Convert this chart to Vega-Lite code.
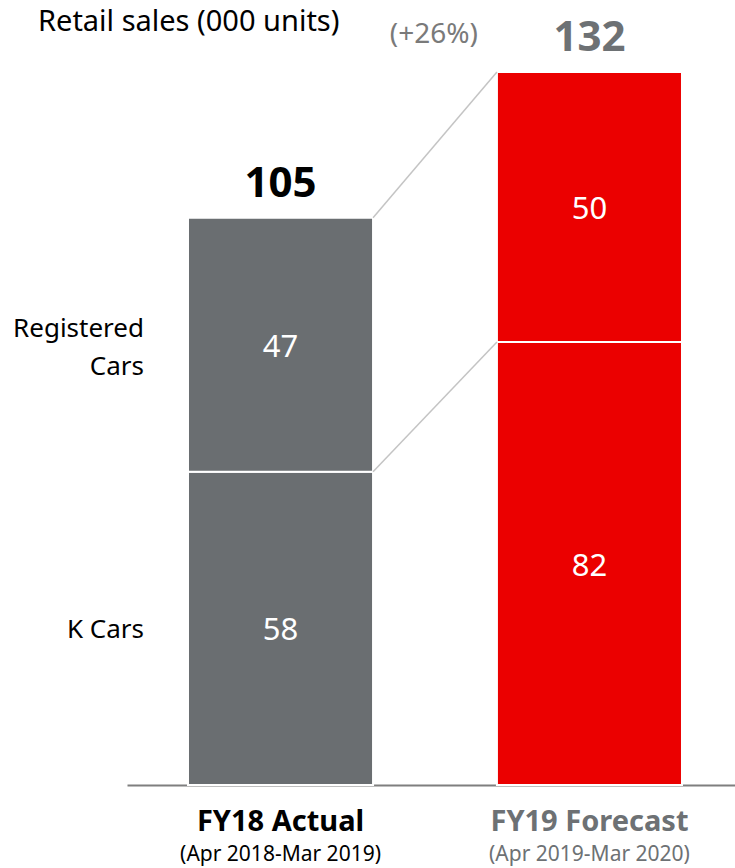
{
  "$schema": "https://vega.github.io/schema/vega-lite/v6.json",
  "width": 608,
  "height": 713,
  "autosize": {"type": "none"},
  "padding": {"left": 127, "top": 72, "right": 0, "bottom": 83},
  "config": {
    "view": {"stroke": null},
    "font": "Noto Sans"
  },
  "datasets": {
    "segments": [
      {"year": "FY18 Actual", "segment": "K Cars", "label": "K Cars", "order": 1, "value": 58},
      {"year": "FY18 Actual", "segment": "Registered Cars", "label": "Registered\nCars", "order": 2, "value": 47},
      {"year": "FY19 Forecast", "segment": "K Cars", "label": "K Cars", "order": 1, "value": 82},
      {"year": "FY19 Forecast", "segment": "Registered Cars", "label": "Registered\nCars", "order": 2, "value": 50}
    ],
    "totals": [
      {"year": "FY18 Actual", "total": 105, "period": "(Apr 2018-Mar 2019)", "heading": "Retail sales (000 units)"},
      {"year": "FY19 Forecast", "total": 132, "period": "(Apr 2019-Mar 2020)", "change": "(+26%)"}
    ],
    "connectors": [
      {"from": "FY18 Actual", "to": "FY19 Forecast", "a": 105, "b": 132},
      {"from": "FY18 Actual", "to": "FY19 Forecast", "a": 58, "b": 82}
    ]
  },
  "resolve": {"scale": {"color": "independent"}},
  "layer": [
    {
      "data": {"name": "segments"},
      "mark": {"type": "bar", "stroke": "#ffffff", "strokeWidth": 2},
      "encoding": {
        "x": {
          "field": "year",
          "type": "nominal",
          "sort": ["FY18 Actual", "FY19 Forecast"],
          "scale": {"domain": ["FY18 Actual", "FY19 Forecast"], "paddingInner": 0.401, "paddingOuter": 0.1845, "align": 0.535},
          "axis": {
            "title": null,
            "ticks": false,
            "domainColor": "#7f7f7f",
            "domainWidth": 2,
            "labelAngle": 0,
            "labelFont": "Noto Sans",
            "labelFontSize": 29,
            "labelFontWeight": "bold",
            "labelBaseline": "middle",
            "labelPadding": 36,
            "labelLimit": 0,
            "labelOverlap": false,
            "labelColor": {"condition": {"test": "datum.value == 'FY18 Actual'", "value": "#000000"}, "value": "#6d7174"}
          }
        },
        "y": {
          "field": "value",
          "type": "quantitative",
          "stack": "zero",
          "scale": {"domain": [0, 132], "nice": false, "zero": true},
          "axis": null
        },
        "detail": {"field": "segment"},
        "order": {"field": "order", "type": "quantitative"},
        "color": {
          "field": "year",
          "type": "nominal",
          "scale": {"domain": ["FY18 Actual", "FY19 Forecast"], "range": ["#6a6e71", "#eb0000"]},
          "legend": null
        }
      }
    },
    {
      "data": {"name": "connectors"},
      "mark": {"type": "rule", "color": "#c4c4c4", "strokeWidth": 1.5},
      "encoding": {
        "x": {"field": "from", "type": "nominal", "bandPosition": 1},
        "x2": {"field": "to", "bandPosition": 0},
        "y": {"field": "a", "type": "quantitative"},
        "y2": {"field": "b"}
      }
    },
    {
      "data": {"name": "totals"},
      "mark": {"type": "text", "fontSize": 42, "fontWeight": "bold", "baseline": "middle", "dy": -34},
      "encoding": {
        "x": {"field": "year", "type": "nominal"},
        "y": {"field": "total", "type": "quantitative"},
        "text": {"field": "total", "type": "quantitative"},
        "color": {"condition": {"test": "datum.year == 'FY18 Actual'", "value": "#000000"}, "value": "#6d7174"}
      }
    },
    {
      "data": {"name": "totals"},
      "transform": [{"filter": "isValid(datum.change)"}],
      "mark": {"type": "text", "fontSize": 28, "baseline": "middle", "align": "center", "dx": -63, "dy": -37, "color": "#7a7a7a"},
      "encoding": {
        "x": {"field": "year", "type": "nominal", "bandPosition": 0},
        "y": {"field": "total", "type": "quantitative"},
        "text": {"field": "change"}
      }
    },
    {
      "data": {"name": "totals"},
      "transform": [{"filter": "isValid(datum.heading)"}],
      "mark": {"type": "text", "fontSize": 29, "baseline": "middle", "align": "left", "dx": -150, "dy": -50, "color": "#000000"},
      "encoding": {
        "x": {"field": "year", "type": "nominal", "bandPosition": 0},
        "y": {"datum": 132, "type": "quantitative"},
        "text": {"field": "heading"}
      }
    },
    {
      "data": {"name": "totals"},
      "mark": {"type": "text", "fontSize": 21, "baseline": "middle", "dy": 70},
      "encoding": {
        "x": {"field": "year", "type": "nominal"},
        "y": {"datum": 0, "type": "quantitative"},
        "text": {"field": "period"},
        "color": {"condition": {"test": "datum.year == 'FY18 Actual'", "value": "#000000"}, "value": "#6d7174"}
      }
    },
    {
      "data": {"name": "segments"},
      "transform": [
        {"stack": "value", "groupby": ["year"], "sort": [{"field": "order"}], "as": ["y0", "y1"]},
        {"fold": ["y0", "y1"], "as": ["k", "v"]}
      ],
      "mark": {"type": "text", "fontSize": 31, "baseline": "middle", "dy": 3, "color": "#ffffff"},
      "encoding": {
        "x": {"field": "year", "type": "nominal"},
        "y": {"aggregate": "mean", "field": "v", "type": "quantitative"},
        "text": {"field": "value", "type": "quantitative"},
        "detail": {"field": "segment"}
      }
    },
    {
      "data": {"name": "segments"},
      "transform": [
        {"stack": "value", "groupby": ["year"], "sort": [{"field": "order"}], "as": ["y0", "y1"]},
        {"filter": "datum.year == 'FY18 Actual' && datum.segment == 'Registered Cars'"},
        {"fold": ["y0", "y1"], "as": ["k", "v"]}
      ],
      "mark": {"type": "text", "fontSize": 26, "baseline": "middle", "align": "right", "dx": -44, "dy": -16, "lineBreak": "\n", "lineHeight": 38, "color": "#000000"},
      "encoding": {
        "x": {"field": "year", "type": "nominal", "bandPosition": 0},
        "y": {"aggregate": "mean", "field": "v", "type": "quantitative"},
        "text": {"field": "label"},
        "detail": {"field": "segment"}
      }
    },
    {
      "data": {"name": "segments"},
      "transform": [
        {"stack": "value", "groupby": ["year"], "sort": [{"field": "order"}], "as": ["y0", "y1"]},
        {"filter": "datum.year == 'FY18 Actual' && datum.segment == 'K Cars'"},
        {"fold": ["y0", "y1"], "as": ["k", "v"]}
      ],
      "mark": {"type": "text", "fontSize": 26, "baseline": "middle", "align": "right", "dx": -44, "dy": 2, "color": "#000000"},
      "encoding": {
        "x": {"field": "year", "type": "nominal", "bandPosition": 0},
        "y": {"aggregate": "mean", "field": "v", "type": "quantitative"},
        "text": {"field": "label"},
        "detail": {"field": "segment"}
      }
    }
  ]
}
